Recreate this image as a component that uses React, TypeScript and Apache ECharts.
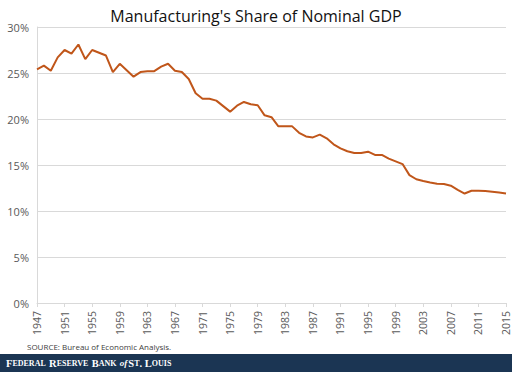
import React, { useEffect, useRef } from "react";
import * as echarts from "echarts";

const years: string[] = [];
for (let y = 1947; y <= 2015; y++) years.push(String(y));

const shareValues = [
  25.4, 25.8, 25.25, 26.7, 27.5, 27.1, 28.1, 26.5, 27.5, 27.2,
  26.9, 25.1, 26.0, 25.3, 24.6, 25.1, 25.2, 25.2, 25.7, 26.0,
  25.25, 25.1, 24.35, 22.8, 22.2, 22.2, 22.0, 21.4, 20.8, 21.45,
  21.85, 21.6, 21.5, 20.4, 20.2, 19.2, 19.2, 19.2, 18.5, 18.1,
  18.0, 18.3, 17.9, 17.25, 16.8, 16.5, 16.3, 16.3, 16.45, 16.1,
  16.1, 15.7, 15.4, 15.1, 13.9, 13.45, 13.26, 13.1, 12.97, 12.93,
  12.75, 12.3, 11.9, 12.2, 12.2, 12.17, 12.1, 12.0, 11.9,
];

const titleText = "Manufacturing's Share of Nominal GDP";
const sourceText = "SOURCE: Bureau of Economic Analysis.";

export default function App() {
  const ref = useRef<HTMLDivElement>(null);
  useEffect(() => {
    if (!ref.current) return;
    const chart = echarts.init(ref.current, undefined, { renderer: "svg" });
    const grey = "#d9d9d9";
    chart.setOption({
      animation: false,
      backgroundColor: "#ffffff",
      title: {
        text: titleText,
        left: "center",
        top: 3,
        textStyle: {
          fontFamily: "Open Sans",
          fontSize: 16,
          fontWeight: 500,
          color: "#111111",
        },
      },
      grid: { left: 37, right: 6, top: 27, bottom: 69 },
      xAxis: {
        type: "category",
        data: years,
        boundaryGap: false,
        axisLine: { show: true, lineStyle: { color: grey } },
        axisTick: { show: true, interval: 3, length: 4, lineStyle: { color: grey } },
        axisLabel: {
          interval: 3,
          rotate: 90,
          margin: 8,
          fontFamily: "Open Sans",
          fontSize: 10.5,
          color: "#595959",
        },
        splitLine: { show: false },
      },
      yAxis: {
        type: "value",
        min: 0,
        max: 30,
        interval: 5,
        axisLine: { show: true, lineStyle: { color: grey } },
        axisTick: { show: false },
        axisLabel: {
          formatter: "{value}%",
          margin: 8,
          fontFamily: "Open Sans",
          fontSize: 11,
          color: "#595959",
        },
        splitLine: { show: true, lineStyle: { color: grey, width: 1 } },
      },
      series: [
        {
          type: "line",
          data: shareValues,
          showSymbol: false,
          lineStyle: { color: "#c0561a", width: 2 },
        },
      ],
      graphic: [
        {
          type: "text",
          x: 27,
          y: 346,
          style: {
            text: sourceText,
            fontFamily: "Open Sans",
            fontSize: 8,
            fill: "#404040",
            textAlign: "left",
            textVerticalAlign: "middle",
          },
        },
        {
          type: "rect",
          x: 0,
          y: 354,
          shape: { width: 512, height: 18 },
          style: { fill: "#1b3553" },
        },
        {
          type: "text",
          x: 6,
          y: 363,
          style: {
            text:
              "{b|F}{s|EDERAL} {b|R}{s|ESERVE} {b|B}{s|ANK} {i|of}{b|S}{s|T}{b|. L}{s|OUIS}",
            fill: "#ffffff",
            textAlign: "left",
            textVerticalAlign: "middle",
            rich: {
              b: { fontFamily: "Liberation Serif", fontSize: 10.5, fontWeight: "bold", fill: "#ffffff" },
              s: { fontFamily: "Liberation Serif", fontSize: 8, fontWeight: "bold", fill: "#ffffff" },
              i: {
                fontFamily: "Liberation Serif",
                fontSize: 9,
                fontStyle: "italic",
                fontWeight: "bold",
                fill: "#ffffff",
                padding: [0, 1, 0, 0],
              },
            },
          },
        },
      ],
    });
    return () => chart.dispose();
  }, []);
  return (
    <div
      ref={ref}
      style={{ position: "fixed", left: 0, top: 0, width: 512, height: 372 }}
    />
  );
}
